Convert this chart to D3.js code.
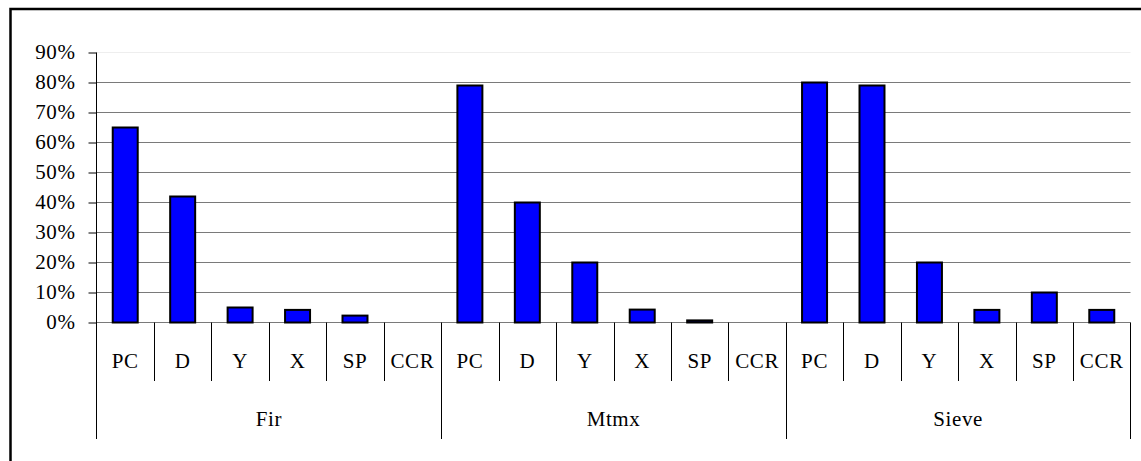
<!DOCTYPE html>
<html>
<head>
<meta charset="utf-8">
<script src="https://cdn.jsdelivr.net/npm/d3@7"></script>
<style>
  html, body { margin: 0; padding: 0; background: #fff; }
  svg { display: block; }
  text { font-family: "Liberation Serif", "Times New Roman", serif; fill: #000; letter-spacing: 0.6px; }
</style>
</head>
<body>
<svg id="chart" width="1141" height="461"></svg>
<script>
// ---- data ----
const groups = ["Fir", "Mtmx", "Sieve"];
const registers = ["PC", "D", "Y", "X", "SP", "CCR"];
const firValues = [0.65, 0.42, 0.05, 0.042, 0.023, 0];
const mtmxValues = [0.79, 0.40, 0.20, 0.043, 0.007, 0];
const sieveValues = [0.80, 0.79, 0.20, 0.042, 0.10, 0.042];
const yTicks = [0, 0.1, 0.2, 0.3, 0.4, 0.5, 0.6, 0.7, 0.8, 0.9];

const seriesByGroup = { Fir: firValues, Mtmx: mtmxValues, Sieve: sieveValues };
const rows = [];
groups.forEach(g => registers.forEach((r, i) => rows.push({ group: g, reg: r, key: g + "|" + r, value: seriesByGroup[g][i] })));

// ---- layout ----
const svg = d3.select("#chart");
const left = 96.5, right = 1130.5, yBase = 322.5, yTop = 52.5;
const tickBottom = 381, groupBottom = 439;
const fontSize = 21;

const x = d3.scaleBand().domain(rows.map(d => d.key)).range([left, right]).padding(0);
const xg = d3.scaleBand().domain(groups).range([left, right]).padding(0);
const y = d3.scaleLinear().domain([0, 0.9]).range([yBase, yTop]);

// outer frame
svg.append("rect")
  .attr("x", 10.5).attr("y", 9).attr("width", 1200).attr("height", 500)
  .attr("fill", "none").attr("stroke", "#000").attr("stroke-width", 2.5);

// gridlines
svg.append("g").selectAll("line").data(yTicks).join("line")
  .attr("x1", left).attr("x2", right)
  .attr("y1", d => y(d)).attr("y2", d => y(d))
  .attr("stroke", d => d === 0.9 ? "#eeeeee" : "#7a7a7a")
  .attr("stroke-width", 1.2);

// y axis
const yAxis = d3.axisLeft(y).tickValues(yTicks).tickFormat(d3.format(".0%")).tickSize(8).tickPadding(13);
const ya = svg.append("g").attr("transform", `translate(${left},0)`).call(yAxis);
ya.select(".domain").remove();
ya.selectAll(".tick line").attr("stroke", "#000").attr("stroke-width", 1);
ya.selectAll(".tick text")
  .style("font-family", '"Liberation Serif", serif').style("font-size", fontSize + "px")
  .style("letter-spacing", "0.6px")
  .attr("fill", "#000").attr("dy", "0.27em");

// vertical axis line
svg.append("line").attr("x1", left).attr("x2", left).attr("y1", yTop).attr("y2", groupBottom)
  .attr("stroke", "#000").attr("stroke-width", 1);

// bars
const barFrac = 0.435;
svg.append("g").selectAll("rect").data(rows).join("rect")
  .attr("x", d => x(d.key) + x.bandwidth() * (1 - barFrac) / 2)
  .attr("width", x.bandwidth() * barFrac)
  .attr("y", d => y(d.value))
  .attr("height", d => y(0) - y(d.value))
  .attr("fill", "#0000ff")
  .attr("stroke", d => d.value > 0 ? "#000" : "none")
  .attr("stroke-width", 2);

// category separators
const sepKeys = rows.map(d => d.key).slice(1);
svg.append("g").selectAll("line").data(sepKeys).join("line")
  .attr("x1", d => Math.round(x(d)) + 0.5).attr("x2", d => Math.round(x(d)) + 0.5)
  .attr("y1", yBase).attr("y2", d => d.endsWith("|PC") ? groupBottom : tickBottom)
  .attr("stroke", "#000").attr("stroke-width", 1);
svg.append("line").attr("x1", right).attr("x2", right).attr("y1", yBase).attr("y2", groupBottom)
  .attr("stroke", "#000").attr("stroke-width", 1);

// category labels
svg.append("g").selectAll("text").data(rows).join("text")
  .attr("x", d => x(d.key) + x.bandwidth() / 2)
  .attr("y", 367.5)
  .attr("text-anchor", "middle")
  .style("font-size", fontSize + "px")
  .text(d => d.reg);

// group labels
svg.append("g").selectAll("text").data(groups).join("text")
  .attr("x", d => xg(d) + xg.bandwidth() / 2)
  .attr("y", 426)
  .attr("text-anchor", "middle")
  .style("font-size", fontSize + "px")
  .text(d => d);
</script>
</body>
</html>
